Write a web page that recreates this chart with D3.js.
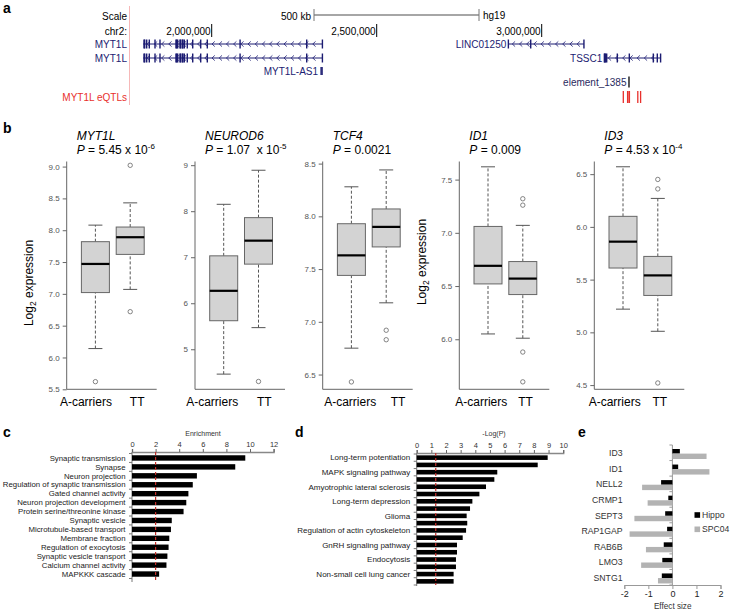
<!DOCTYPE html>
<html><head><meta charset="utf-8">
<script src="https://cdnjs.cloudflare.com/ajax/libs/d3/7.8.5/d3.min.js"></script>
<style>
body{margin:0;background:#fff}
svg{display:block}
text{font-family:"Liberation Sans",Arial,Helvetica,sans-serif}
</style></head>
<body><svg id="c" width="730" height="610"></svg>
<script>
// ---------------- DATA ----------------
// panel a: genome browser (chr2, hg19)
const chrTicks = [2000000, 2500000, 3000000];
const scaleBarStart = 2310000, scaleBarLen = 500000;
const geneNames = ["MYT1L", "MYT1L", "LINC01250", "TSSC1"];
const geneStarts = [1792400, 1792400, 2898800, 3189700];
const geneEnds = [2336000, 2336000, 3128200, 3360600];
const myt1lExons = [1794800, 1797000, 1803000, 1810900, 1828200, 1843300, 1891800, 1893800, 1896900, 1903900, 1905800, 1910900, 1912800, 1917000, 1926000, 1942400, 1966700, 1986700, 2086000, 2287900, 2335500];
const lincExons = [2899000, 2966700, 3128000];
const tssc1Exons = [3189900, 3191600, 3193300, 3196970, 3229100, 3265500, 3338200, 3350300, 3360300];
const as1Pos = [2331500, 2334500];
const elementPos = 3264500;
const eqtlPos = [3247300, 3260300, 3261200, 3265800, 3291200, 3299700];

// panel b: box plots [lowWhisker, Q1, median, Q3, highWhisker]
const genesB = ["MYT1L", "NEUROD6", "TCF4", "ID1", "ID3"];
const pValues = ["5.45 x 10", "1.07  x 10", "0.0021", "0.009", "4.53 x 10"];
const pExponents = ["-6", "-5", "", "", "-4"];
const groups = ["A-carriers", "TT"];
const statsA = [[6.14, 7.02, 7.47, 7.82, 8.08], [4.46, 5.62, 6.27, 7.03, 8.15], [6.75, 7.44, 7.63, 7.93, 8.28], [6.05, 6.52, 6.69, 7.06, 7.62], [5.22, 5.61, 5.86, 6.10, 6.57]];
const statsTT = [[7.07, 7.62, 7.89, 8.05, 8.43], [5.47, 6.85, 7.36, 7.86, 8.89], [7.18, 7.71, 7.90, 8.07, 8.44], [6.01, 6.42, 6.57, 6.73, 7.07], [5.01, 5.35, 5.54, 5.72, 6.27]];
const outliersA = [[5.62], [], [6.43], [], []];
const outliersTT = [[9.02, 6.72], [4.30], [6.92, 6.83], [7.32, 7.26, 5.88, 5.60], [6.45, 6.36, 4.52]];
const yDomains = [[5.5, 9.08], [4.13, 9.08], [6.36, 8.52], [5.53, 7.67], [4.46, 6.62]];
const yTicks = [[5.5, 6.0, 6.5, 7.0, 7.5, 8.0, 8.5, 9.0], [5, 6, 7, 8, 9], [6.5, 7.0, 7.5, 8.0, 8.5], [6.0, 6.5, 7.0, 7.5], [4.5, 5.0, 5.5, 6.0, 6.5]];
const yTickFormats = [".1f", "d", ".1f", ".1f", ".1f"];

// panel c: GO enrichment
const goTerms = ["Synaptic transmission", "Synapse", "Neuron projection", "Regulation of synaptic transmission", "Gated channel activity", "Neuron projection development", "Protein serine/threonine kinase", "Synaptic vesicle", "Microtubule-based transport", "Membrane fraction", "Regulation of exocytosis", "Synaptic vesicle transport", "Calcium channel activity", "MAPKKK cascade"];
const goEnrichment = [9.6, 8.75, 5.5, 5.15, 4.78, 4.6, 4.37, 3.37, 3.3, 3.16, 3.1, 3.0, 2.92, 2.3];
const enrichTicks = [0, 2, 4, 6, 8, 10, 12];
const enrichThreshold = 2;

// panel d: KEGG pathways (-log P)
const keggTerms = ["Long-term potentiation", "", "MAPK signaling pathway", "", "Amyotrophic lateral sclerosis", "", "Long-term depression", "", "Glioma", "", "Regulation of actin cytoskeleton", "", "GnRH signaling pathway", "", "Endocytosis", "", "Non-small cell lung cancer", ""];
const keggLogP = [8.94, 8.26, 5.5, 5.3, 4.73, 4.28, 3.8, 3.64, 3.41, 3.45, 3.37, 3.14, 2.75, 2.75, 2.68, 2.68, 2.52, 2.52];
const logPTicks = [0, 1, 2, 3, 4, 5, 6, 7, 8, 9, 10];
const logPThreshold = 1.3;

// panel e: effect sizes
const effGenes = ["ID3", "ID1", "NELL2", "CRMP1", "SEPT3", "RAP1GAP", "RAB6B", "LMO3", "SNTG1"];
const hippoEffect = [0.31, 0.24, -0.47, -0.17, -0.30, -0.22, -0.36, -0.42, -0.44];
const spc04Effect = [1.42, 1.54, -1.26, -1.03, -1.58, -1.78, -1.10, -1.30, -0.60];
const effTicks = [-2, -1, 0, 1, 2];
const seriesNames = ["Hippo", "SPC04"];

// ---------------- DRAW ----------------
const svg = d3.select("#c");
const NAVY = "#1c1c72", RED = "#e8302c";

function txt(g, x, y, s, opt = {}) {
  const t = g.append("text").attr("x", x).attr("y", y).text(s)
    .attr("font-size", opt.size || 10).attr("fill", opt.fill || "#000")
    .attr("text-anchor", opt.anchor || "start");
  if (opt.dy) t.attr("dy", opt.dy);
  if (opt.weight) t.attr("font-weight", opt.weight);
  return t;
}

// panel letters
[["a", 3, 13], ["b", 3, 133], ["c", 3, 437], ["d", 295, 437], ["e", 578, 437]].forEach(d =>
  txt(svg, d[1], d[2], d[0], { size: 14, weight: "bold" }));

// ---- panel a ----
const gA = svg.append("g");
const xg = d3.scaleLinear().domain([2000000, 3000000]).range([211.7, 541.7]);
const row = { scale: 16, chr: 31, g1: 44, g2: 58, as1: 71, elem: 82, eqtl: 97 };
gA.append("line").attr("x1", 129.5).attr("x2", 129.5).attr("y1", 6).attr("y2", 105).attr("stroke", "#f6b8b8");
txt(gA, 127, row.scale, "Scale", { anchor: "end", dy: ".35em" });
txt(gA, 127, row.chr, "chr2:", { anchor: "end", dy: ".35em" });
txt(gA, 127, row.eqtl, "MYT1L eQTLs", { anchor: "end", dy: ".35em", fill: RED });
// scale bar
const sb0 = xg(scaleBarStart), sb1 = xg(scaleBarStart + scaleBarLen);
gA.append("line").attr("x1", sb0).attr("x2", sb1).attr("y1", 15).attr("y2", 15).attr("stroke", "#888").attr("stroke-width", 1.6);
[sb0, sb1].forEach(x => gA.append("line").attr("x1", x).attr("x2", x).attr("y1", 9).attr("y2", 21).attr("stroke", "#777"));
txt(gA, sb0 - 3, row.scale, "500 kb", { anchor: "end", dy: ".35em" });
txt(gA, sb1 + 4, row.scale - 1, "hg19", { dy: ".35em" });
// chromosome ticks
chrTicks.forEach(t => {
  gA.append("line").attr("x1", xg(t)).attr("x2", xg(t)).attr("y1", 24).attr("y2", 37).attr("stroke", "#000");
  txt(gA, xg(t) - 1, row.chr, d3.format(",")(t), { anchor: "end", dy: ".35em" });
});
function drawGene(start, end, y, exons) {
  const x0 = xg(start), x1 = xg(end);
  gA.append("line").attr("x1", x0).attr("x2", x1).attr("y1", y).attr("y2", y).attr("stroke", NAVY).attr("stroke-width", 1);
  const chev = d3.range(x0 + 5, x1 - 3, 7.2);
  gA.append("g").selectAll("path").data(chev).join("path")
    .attr("d", x => `M${x + 1.8},${y - 2.6}L${x - 1},${y}L${x + 1.8},${y + 2.6}`)
    .attr("fill", "none").attr("stroke", NAVY).attr("stroke-width", 0.8);
  gA.append("g").selectAll("rect").data(exons).join("rect")
    .attr("x", e => xg(e) - 0.7).attr("width", 1.4).attr("y", y - 4.5).attr("height", 9).attr("fill", NAVY);
}
const geneRows = [row.g1, row.g2, row.g1, row.g2];
const geneExons = [myt1lExons, myt1lExons, lincExons, tssc1Exons];
geneNames.forEach((n, i) => {
  drawGene(geneStarts[i], geneEnds[i], geneRows[i], geneExons[i]);
  const lx = i < 2 ? 127 : xg(geneStarts[i]) - 2;
  txt(gA, lx, geneRows[i], n, { anchor: "end", dy: ".35em", fill: NAVY });
});
// MYT1L-AS1
as1Pos.forEach(p => gA.append("rect").attr("x", xg(p) - 0.7).attr("width", 1.4).attr("y", row.as1 - 4).attr("height", 8).attr("fill", NAVY));
txt(gA, xg(as1Pos[0]) - 3, row.as1, "MYT1L-AS1", { anchor: "end", dy: ".35em", fill: NAVY });
// element
gA.append("line").attr("x1", xg(elementPos)).attr("x2", xg(elementPos)).attr("y1", row.elem - 5.5).attr("y2", row.elem + 5.5).attr("stroke", "#000").attr("stroke-width", 1.3);
txt(gA, xg(elementPos) - 2.5, row.elem, "element_1385", { anchor: "end", dy: ".35em", fill: "#2a2a5e" });
// eQTLs
gA.append("g").selectAll("line").data(eqtlPos).join("line")
  .attr("x1", p => xg(p)).attr("x2", p => xg(p)).attr("y1", row.eqtl - 6).attr("y2", row.eqtl + 6)
  .attr("stroke", RED).attr("stroke-width", 1.3);

// ---- panel b ----
const gB = svg.append("g");
const plotTop = 161.5, plotBot = 389.3;
const panelAxisX = [66.7, 195, 322.7, 459.3, 594.3];
const labelDxA = [-9.5, -11.5, -1.2, -6.7, -8.3], labelDxT = [7, 5.8, 11.8, 2.8, 2];
genesB.forEach((gname, i) => {
  const ax = panelAxisX[i];
  const g = gB.append("g");
  const y = d3.scaleLinear().domain(yDomains[i]).range([plotBot, plotTop]);
  const x = d3.scalePoint().domain(groups).range([ax + 28.7, ax + 63.5]);
  const bw = 28;
  const yAx = g.append("g").attr("transform", `translate(${ax},0)`)
    .call(d3.axisLeft(y).tickValues(yTicks[i]).tickSize(4).tickPadding(3).tickFormat(d3.format(yTickFormats[i])));
  yAx.select(".domain").remove();
  yAx.selectAll("line").attr("stroke", "#666");
  yAx.selectAll("text").attr("font-size", 8).attr("fill", "#555").attr("font-family", null);
  g.append("path").attr("d", `M${ax},${plotTop}V${plotBot}H${ax + 90}`).attr("fill", "none").attr("stroke", "#666");
  [statsA[i], statsTT[i]].forEach((s, j) => {
    const cx = x(groups[j]);
    g.append("line").attr("x1", cx).attr("x2", cx).attr("y1", y(s[0])).attr("y2", y(s[1])).attr("stroke", "#555").attr("stroke-dasharray", "3,2");
    g.append("line").attr("x1", cx).attr("x2", cx).attr("y1", y(s[3])).attr("y2", y(s[4])).attr("stroke", "#555").attr("stroke-dasharray", "3,2");
    [s[0], s[4]].forEach(v => g.append("line").attr("x1", cx - bw / 4).attr("x2", cx + bw / 4).attr("y1", y(v)).attr("y2", y(v)).attr("stroke", "#555"));
    g.append("rect").attr("x", cx - bw / 2).attr("width", bw).attr("y", y(s[3])).attr("height", y(s[1]) - y(s[3]))
      .attr("fill", "#d3d3d3").attr("stroke", "#666");
    g.append("line").attr("x1", cx - bw / 2).attr("x2", cx + bw / 2).attr("y1", y(s[2])).attr("y2", y(s[2])).attr("stroke", "#000").attr("stroke-width", 2.2);
    const outs = j === 0 ? outliersA[i] : outliersTT[i];
    g.selectAll(null).data(outs).join("circle").attr("cx", cx).attr("cy", v => y(v)).attr("r", 2.2)
      .attr("fill", "none").attr("stroke", "#666").attr("stroke-width", 0.8);
  });
  txt(g, x(groups[0]) + labelDxA[i], 406, groups[0], { size: 12, anchor: "middle" });
  txt(g, x(groups[1]) + labelDxT[i], 406, groups[1], { size: 12, anchor: "middle" });
  // titles
  txt(g, ax + 10, 139.5, gname, { size: 12 }).attr("font-style", "italic");
  const pt = g.append("text").attr("x", ax + 10).attr("y", 153.5).attr("font-size", 12).style("white-space", "pre");
  pt.append("tspan").attr("font-style", "italic").text("P");
  pt.append("tspan").text(" = " + pValues[i]);
  if (pExponents[i]) pt.append("tspan").attr("font-size", 8).attr("dy", -5).text(pExponents[i]);
});
// y titles
[[32.5, 283], [426, 262]].forEach(p => {
  const t = gB.append("text").attr("transform", `translate(${p[0]},${p[1]}) rotate(-90)`).attr("text-anchor", "middle").attr("font-size", 12);
  t.append("tspan").text("Log");
  t.append("tspan").attr("font-size", 8.5).attr("dy", 3).text("2");
  t.append("tspan").attr("dy", -3).text(" expression");
});

// ---- horizontal bar panels c & d ----
function hbar(cfg) {
  const g = svg.append("g");
  const x = d3.scaleLinear().domain([0, cfg.ticks[cfg.ticks.length - 1]]).range(cfg.xr);
  const y = d3.scaleBand().domain(d3.range(cfg.values.length)).range(cfg.yr);
  const ax = g.append("g").attr("transform", `translate(0,${cfg.axisY})`)
    .call(d3.axisTop(x).tickValues(cfg.ticks).tickSize(3).tickPadding(2).tickFormat(d3.format("d")));
  ax.select(".domain").attr("stroke", "#888").attr("stroke-width", 1.4);
  ax.selectAll("line").attr("stroke", "#666");
  ax.selectAll("text").attr("font-size", 7.5).attr("fill", "#333").attr("font-family", null);
  txt(g, cfg.titleX, 436, cfg.title, { size: 7, anchor: "middle", fill: "#333" });
  g.append("line").attr("x1", cfg.xr[0]).attr("x2", cfg.xr[0]).attr("y1", cfg.axisY).attr("y2", cfg.yEnd).attr("stroke", "#777");
  g.selectAll(null).data(d3.range(cfg.values.length + 1)).join("line")
    .attr("x1", cfg.xr[0] - 3).attr("x2", cfg.xr[0]).attr("y1", k => cfg.yr[0] + k * y.step()).attr("y2", k => cfg.yr[0] + k * y.step())
    .attr("stroke", "#777");
  g.selectAll(null).data(cfg.values).join("rect")
    .attr("x", x(0)).attr("y", (v, k) => y(k) + y.bandwidth() / 2 - cfg.bh / 2)
    .attr("width", v => x(v) - x(0)).attr("height", cfg.bh).attr("fill", "#000");
  g.selectAll(null).data(cfg.labels).join("text")
    .attr("x", cfg.xr[0] - 6.5).attr("y", (s, k) => y(k) + y.bandwidth() / 2).attr("dy", ".35em")
    .attr("text-anchor", "end").attr("font-size", cfg.fs).attr("fill", "#222").text(s => s);
  g.append("line").attr("x1", x(cfg.thr)).attr("x2", x(cfg.thr)).attr("y1", cfg.axisY).attr("y2", cfg.yEnd - 1)
    .attr("stroke", "#c0302a").attr("stroke-width", 1.2).attr("stroke-dasharray", "3,2");
}
hbar({ values: goEnrichment, labels: goTerms, ticks: enrichTicks, thr: enrichThreshold, xr: [132, 273.6], yr: [453.5, 578.5], axisY: 452, yEnd: 582, bh: 5.4, fs: 7.8, title: "Enrichment", titleX: 203 });
hbar({ values: keggLogP, labels: keggTerms, ticks: logPTicks, thr: logPThreshold, xr: [416.7, 563.2], yr: [454, 585], axisY: 453, yEnd: 586, bh: 4.6, fs: 8, title: "-Log(P)", titleX: 494 });

// ---- panel e ----
const gE = svg.append("g");
const xe = d3.scaleLinear().domain([-2, 2]).range([624.3, 720.5]);
const ye = d3.scaleBand().domain(effGenes).range([445, 585]);
const eAx = gE.append("g").attr("transform", "translate(0,585)")
  .call(d3.axisBottom(xe).tickValues(effTicks).tickSize(4).tickPadding(2).tickFormat(d3.format("d")));
eAx.select(".domain").attr("stroke", "#999");
eAx.selectAll("line").attr("stroke", "#999");
eAx.selectAll("text").attr("font-size", 9).attr("fill", "#222").attr("font-family", null).text(d => d < 0 ? "-" + Math.abs(d) : d);
gE.append("line").attr("x1", xe(0)).attr("x2", xe(0)).attr("y1", 445).attr("y2", 585).attr("stroke", "#999");
gE.selectAll(null).data(d3.range(effGenes.length + 1)).join("line")
  .attr("x1", xe(0) - 3).attr("x2", xe(0)).attr("y1", k => 445 + k * ye.step()).attr("y2", k => 445 + k * ye.step()).attr("stroke", "#999");
const eSeries = [hippoEffect, spc04Effect], eColors = ["#000", "#b3b3b3"], eOff = [4, 8.6], eH = [4.6, 5.4];
eSeries.forEach((vals, s) => {
  gE.selectAll(null).data(vals).join("rect")
    .attr("x", v => Math.min(xe(0), xe(v))).attr("width", v => Math.abs(xe(v) - xe(0)))
    .attr("y", (v, k) => ye(effGenes[k]) + eOff[s]).attr("height", eH[s]).attr("fill", eColors[s]);
});
gE.selectAll(null).data(effGenes).join("text")
  .attr("x", 622.5).attr("y", d => ye(d) + 8.3).attr("dy", ".35em").attr("text-anchor", "end")
  .attr("font-size", 8.7).attr("fill", "#333").text(d => d);
txt(gE, 672.7, 608.5, "Effect size", { size: 8.2, anchor: "middle", fill: "#333" });
seriesNames.forEach((n, s) => {
  const ly = 515 + s * 14.3;
  gE.append("rect").attr("x", 694.5).attr("y", ly - 2.8).attr("width", 5.6).attr("height", 5.6).attr("fill", eColors[s]);
  txt(gE, 702, ly, n, { size: 8.6, dy: ".35em", fill: "#333" });
});
</script>
</body></html>
